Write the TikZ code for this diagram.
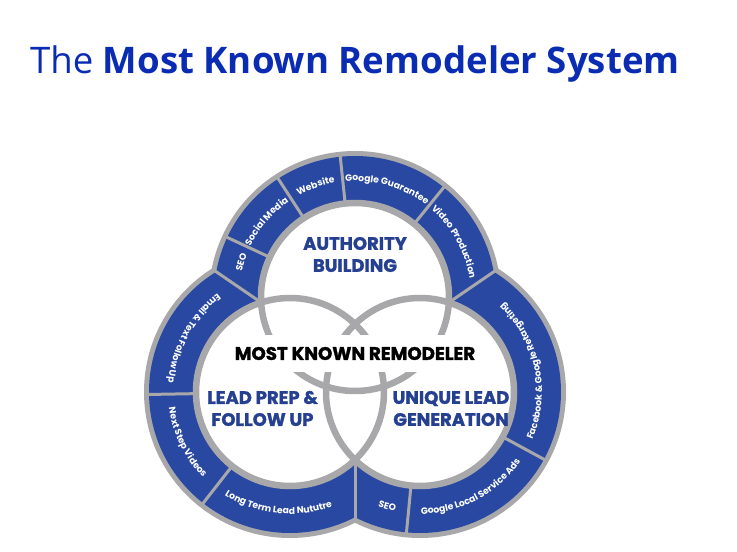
\documentclass[tikz,border=0pt]{standalone}
\usepackage{fontspec}
\setmainfont{Poppins}
\newfontfamily\titlefont{Open Sans}
\newfontfamily\popheavy{Poppins}[BoldFeatures={FakeBold=1.6}]
\usetikzlibrary{decorations.text,calc}
\definecolor{ringblue}{RGB}{40,72,162}
\definecolor{ringgray}{RGB}{168,168,170}
\definecolor{titleblue}{RGB}{10,44,178}
\definecolor{innerblue}{RGB}{38,64,145}
\newcommand\lblfmt{\fontsize{9.2}{9.2}\selectfont\bfseries\color{white}}
% clockwise label (tops outward): centre, angle, radius, half-span, text
\newcommand\cwlabel[5]{%
  \path[decorate,decoration={text along path,text align=center,text={|\lblfmt|#5}}]
    ($(#1)+(#2+#4:#3)$) arc[start angle=#2+#4, end angle=#2-#4, radius=#3];}
% counter-clockwise label (tops inward)
\newcommand\ccwlabel[5]{%
  \path[decorate,decoration={text along path,text align=center,text={|\lblfmt|#5}}]
    ($(#1)+(#2-#4:#3)$) arc[start angle=#2-#4, end angle=#2+#4, radius=#3];}
\begin{document}
\begin{tikzpicture}[x=1pt,y=1pt,
  sep/.style={ringgray,line width=3pt},
  venn/.style={ringgray,line width=6.5pt},
  innertext/.style={text=innerblue,font=\popheavy\fontsize{18}{22}\selectfont\bfseries,align=center,inner sep=0pt}]
\useasboundingbox (0,0) rectangle (737,552);
\node[anchor=base west,inner sep=0pt,text=titleblue] (title) at (30,478)
  {\titlefont\fontsize{36.6}{36.6}\selectfont The \bfseries Most Known Remodeler System};
\coordinate (T) at (355,255);
\coordinate (L) at (290,160);
\coordinate (R) at (420,160);
\coordinate (jTLo) at (211.76,283.27);
\coordinate (jTLi) at (261.16,249.47);
\coordinate (jTRo) at (498.24,283.27);
\coordinate (jTRi) at (448.84,249.47);
\coordinate (jLRo) at (355,29.27);
\coordinate (jLRi) at (355,92.1);
% outer gray border and blue band
\fill[ringgray] (T) circle (146) (L) circle (146) (R) circle (146);
\fill[ringblue] (T) circle (141) (L) circle (141) (R) circle (141);
% separators
\foreach \c/\a in {T/155,T/123,T/96,T/51,L/181,L/232,R/331.5,R/264.5}
  \draw[sep] ($(\c)+(\a:94)$) -- ($(\c)+(\a:143)$);
\draw[sep] (jTLo) -- (jTLi);
\draw[sep] (jTRo) -- (jTRi);
\draw[sep] (jLRo) -- (jLRi);
% inner white discs and venn circles
\fill[white] (T) circle (94) (L) circle (94) (R) circle (94);
\draw[venn] (T) circle (94) (L) circle (94) (R) circle (94);
% ring labels
\cwlabel{T}{163}{116}{40}{SEO}
\cwlabel{T}{139.5}{116}{40}{Social Media}
\cwlabel{T}{109.5}{116}{40}{Website}
\cwlabel{T}{73.5}{116}{50}{Google Guarantee}
\cwlabel{T}{29}{116}{50}{Video Production}
\ccwlabel{L}{151}{122}{50}{Email {\&} Text Follow Up}
\ccwlabel{L}{206}{122}{50}{Next Step Videos}
\ccwlabel{L}{264}{122}{60}{Long Term Lead Nututre}
\ccwlabel{R}{12}{122}{60}{Facebook {\&} Google Retargeting}
\ccwlabel{R}{298}{122}{60}{Google Local Service Ads}
\ccwlabel{R}{254}{122}{40}{SEO}
% inner texts
\node[fill=white,minimum width=260pt,minimum height=37pt,inner sep=0pt,
  font=\popheavy\fontsize{18.2}{20}\selectfont\bfseries] (core) at (355,198.5) {MOST KNOWN REMODELER};
\node[innertext] (auth) at (355,297.5) {AUTHORITY\\BUILDING};
\node[innertext] (lead) at (262.5,143.5) {LEAD PREP \&\\FOLLOW UP};
\node[innertext] (uniq) at (451,143.5) {UNIQUE LEAD\\GENERATION};
\end{tikzpicture}
\end{document}
